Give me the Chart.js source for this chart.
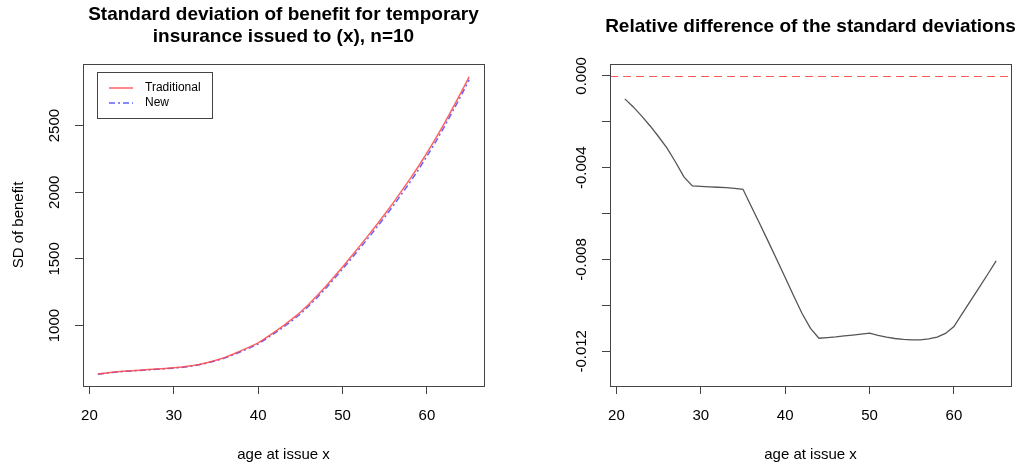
<!DOCTYPE html>
<html>
<head>
<meta charset="utf-8">
<script src="https://cdn.jsdelivr.net/npm/chart.js@4"></script>
<style>
  body { margin: 0; background: #fff; }
  .pane { position: absolute; top: 0; height: 466px; }
</style>
</head>
<body>
<div class="pane" style="left:0;width:511px"><canvas id="sd-chart" width="511" height="466"></canvas></div>
<div class="pane" style="left:511px;width:512px"><canvas id="rel-chart" width="512" height="466"></canvas></div>
<script>
// ages at issue
var ages = [21, 22, 23, 24, 25, 26, 27, 28, 29, 30,
            31, 32, 33, 34, 35, 36, 37, 38, 39, 40,
            41, 42, 43, 44, 45, 46, 47, 48, 49, 50,
            51, 52, 53, 54, 55, 56, 57, 58, 59, 60,
            61, 62, 63, 64, 65];
var sdTraditional = [637, 645, 652, 657, 662, 666, 671, 675, 679, 684,
                     690, 698, 709, 723, 740, 760, 785, 812, 840, 870,
                     912, 955, 1000, 1048, 1100, 1160, 1225, 1294, 1366, 1440,
                     1516, 1594, 1673, 1753, 1835, 1920, 2010, 2100, 2195, 2295,
                     2400, 2510, 2625, 2743, 2866];
var sdNew = [636, 644, 651, 656, 660, 664, 668, 672, 676, 681,
             687, 695, 706, 719, 736, 756, 780, 806, 833, 862,
             903, 945, 989, 1036, 1087, 1147, 1211, 1279, 1351, 1424,
             1499, 1576, 1654, 1733, 1814, 1898, 1987, 2076, 2170, 2270,
             2375, 2485, 2601, 2719, 2843];
var relDiff = [-0.00100, -0.00135, -0.00175, -0.00218, -0.00265, -0.00315, -0.00375, -0.00440, -0.00479, -0.00481,
               -0.00483, -0.00485, -0.00487, -0.00490, -0.00494, -0.00570, -0.00645, -0.00722, -0.00800, -0.00878,
               -0.00958, -0.01035, -0.01100, -0.01143, -0.01140, -0.01137, -0.01133, -0.01129, -0.01125, -0.01121,
               -0.01130, -0.01138, -0.01144, -0.01148, -0.01150, -0.01150, -0.01146, -0.01138, -0.01122, -0.01092,
               -0.01035, -0.00978, -0.00921, -0.00864, -0.00806];
var refLevel = [0];

var xTicks = [20, 30, 40, 50, 60];
var sdTicks = [1000, 1500, 2000, 2500];
var sdLabels = ["1000", "1500", "2000", "2500"];
var relTicks = [0, -0.002, -0.004, -0.006, -0.008, -0.010, -0.012];
var relLabels = ["0.000", "", "-0.004", "", "-0.008", "", "-0.012"];

var FONT = '"Liberation Sans", Arial, Helvetica, sans-serif';

function pts(ys) {
    return ages.map(function(a, i) { return {x: a, y: ys[i]}; });
}

// R style box, tick labels, titles
var rAxes = {
    id: 'rAxes',
    beforeDatasetsDraw: function(chart, args, o) {
        if (!o.refLine) return;
        var ctx = chart.ctx, a = chart.chartArea;
        var py = Math.round(chart.scales.y.getPixelForValue(refLevel[0])) + 0.5;
        ctx.save();
        ctx.strokeStyle = 'rgba(255,60,60,0.85)';
        ctx.lineWidth = 1.2;
        ctx.setLineDash([8, 5]);
        ctx.beginPath();
        ctx.moveTo(a.left, py);
        ctx.lineTo(a.right, py);
        ctx.stroke();
        ctx.restore();
    },
    afterDraw: function(chart, args, o) {
        var ctx = chart.ctx, a = chart.chartArea;
        var x = chart.scales.x, y = chart.scales.y;
        ctx.save();
        ctx.strokeStyle = '#444';
        ctx.lineWidth = 1;
        ctx.strokeRect(Math.round(a.left) + 0.5, Math.round(a.top) + 0.5,
                       Math.round(a.right - a.left), Math.round(a.bottom - a.top));

        ctx.fillStyle = '#000';
        ctx.font = '15px ' + FONT;
        ctx.textAlign = 'center';
        ctx.textBaseline = 'middle';
        xTicks.forEach(function(v) {
            ctx.fillText(String(v), x.getPixelForValue(v), a.bottom + 30);
        });
        o.yTicks.forEach(function(v, i) {
            if (!o.yLabels[i]) return;
            ctx.save();
            ctx.translate(a.left - 28, y.getPixelForValue(v));
            ctx.rotate(-Math.PI / 2);
            ctx.fillText(o.yLabels[i], 0, 0);
            ctx.restore();
        });

        var cx = (a.left + a.right) / 2;
        ctx.fillText(o.xlab, cx, a.bottom + 69);
        if (o.ylab) {
            ctx.save();
            ctx.translate(a.left - 64, (a.top + a.bottom) / 2);
            ctx.rotate(-Math.PI / 2);
            ctx.fillText(o.ylab, 0, 0);
            ctx.restore();
        }

        ctx.font = 'bold 19px ' + FONT;
        o.title.forEach(function(t, i) {
            ctx.fillText(t, cx, o.titleY[i]);
        });

        if (o.legend) {
            var lx = a.left + 14, ly = a.top + 8;
            ctx.strokeStyle = '#444';
            ctx.strokeRect(Math.round(lx) + 0.5, Math.round(ly) + 0.5, 115, 46);
            ctx.font = '12px ' + FONT;
            ctx.textAlign = 'left';
            chart.data.datasets.forEach(function(ds, i) {
                var yy = ly + 16 + i * 15;
                ctx.strokeStyle = ds.borderColor;
                ctx.lineWidth = ds.borderWidth;
                ctx.setLineDash(ds.borderDash || []);
                ctx.beginPath();
                ctx.moveTo(lx + 12, yy);
                ctx.lineTo(lx + 36, yy);
                ctx.stroke();
                ctx.fillText(ds.label, lx + 48, yy);
            });
        }
        ctx.restore();
    }
};

function axisOpts(min, max, ticks, isX, size) {
    return {
        type: 'linear',
        min: min,
        max: max,
        afterBuildTicks: function(s) {
            s.ticks = ticks.map(function(v) { return {value: v}; });
        },
        ticks: {display: false},
        border: {display: false},
        grid: {drawOnChartArea: false, drawTicks: true, tickLength: 8, color: '#444', lineWidth: 1},
        afterFit: function(s) {
            if (isX) s.height = size; else s.width = size;
            s.paddingLeft = s.paddingRight = s.paddingTop = s.paddingBottom = 0;
        }
    };
}

new Chart(document.getElementById('sd-chart').getContext('2d'), {
    type: 'line',
    data: {
        datasets: [{
            label: 'Traditional',
            data: pts(sdTraditional),
            borderColor: 'rgba(255,70,70,0.85)',
            borderWidth: 1.5
        }, {
            label: 'New',
            data: pts(sdNew),
            borderColor: 'rgba(70,70,255,0.85)',
            borderWidth: 1.5,
            borderDash: [6, 3, 2, 3]
        }]
    },
    options: {
        responsive: false,
        animation: false,
        elements: {point: {radius: 0}, line: {tension: 0}},
        layout: {padding: {left: 0, right: 27, top: 64, bottom: 0}},
        scales: {
            x: axisOpts(19.24, 66.76, xTicks, true, 80),
            y: axisOpts(547, 2962, sdTicks, false, 83)
        },
        plugins: {
            legend: {display: false},
            tooltip: {enabled: false},
            rAxes: {
                title: ['Standard deviation of benefit for temporary', 'insurance issued to (x), n=10'],
                titleY: [15, 37],
                xlab: 'age at issue x',
                ylab: 'SD of benefit',
                yTicks: sdTicks,
                yLabels: sdLabels,
                legend: true
            }
        }
    },
    plugins: [rAxes]
});

new Chart(document.getElementById('rel-chart').getContext('2d'), {
    type: 'line',
    data: {
        datasets: [{
            label: 'Relative difference',
            data: pts(relDiff),
            borderColor: '#555',
            borderWidth: 1.3
        }]
    },
    options: {
        responsive: false,
        animation: false,
        elements: {point: {radius: 0}, line: {tension: 0}},
        layout: {padding: {left: 0, right: 12, top: 64, bottom: 0}},
        scales: {
            x: axisOpts(19.24, 66.76, xTicks, true, 80),
            y: axisOpts(-0.01351, 0.00052, relTicks, false, 99)
        },
        plugins: {
            legend: {display: false},
            tooltip: {enabled: false},
            rAxes: {
                title: ['Relative difference of the standard deviations'],
                titleY: [27],
                xlab: 'age at issue x',
                yTicks: relTicks,
                yLabels: relLabels,
                refLine: true
            }
        }
    },
    plugins: [rAxes]
});
</script>
</body>
</html>
